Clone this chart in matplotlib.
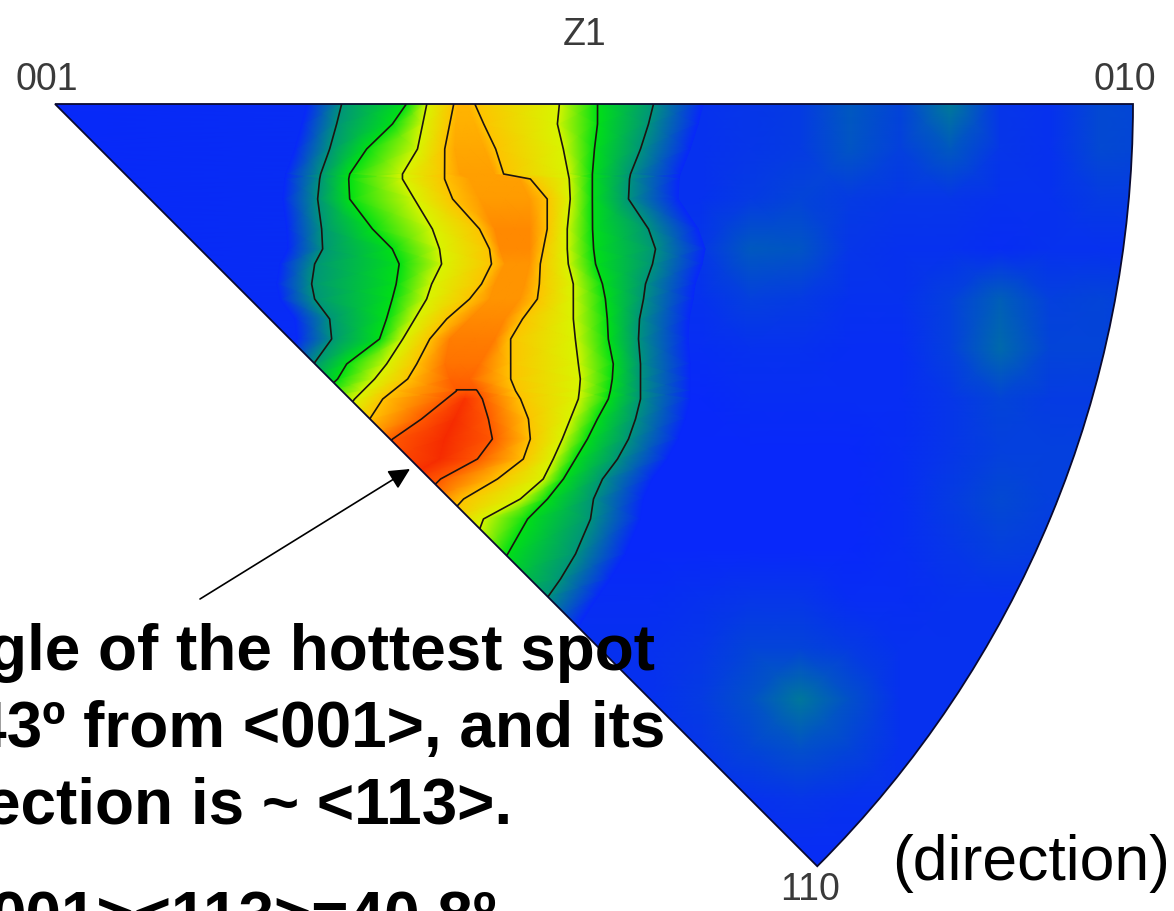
import numpy as np
import matplotlib
matplotlib.use('Agg')
import matplotlib.pyplot as plt
from matplotlib.colors import LinearSegmentedColormap
from matplotlib.patches import Wedge

# --- contour crossings (pixel x for every row y) ---
row_y = [105,125,150,175,180,200,230,250,265,285,300,320,340,365,380,392,400,420,440,460,480,500,520,555,580,597,640]
l1_left = [342,337,330,321,320,318,322,323,315,312,315,330,332,314,300,290,280,270,260,250,240,230,220,210,200,190,180]
l2_left = [407,393,367,350,349,350,373,393,400,397,393,387,380,347,338,325,315,305,295,285,275,265,255,245,235,225,215]
l3_left = [427,423,418,403,403,415,433,440,442,432,427,415,403,387,375,363,355,340,330,320,310,300,290,280,270,260,250]
l4_left = [454,450,445,445,445,453,480,490,492,482,470,447,430,417,408,393,383,370,355,345,335,325,315,305,295,285,275]
l5_left = [458,456,455,460,470,480,495,500,505,495,490,470,450,445,450,457,447,422,393,375,360,345,335,325,315,305,295]
ridge_x = [464,466,470,480,495,505,515,518,517,510,505,490,475,460,460,467,465,455,445,440,405,385,365,345,335,325,315]
l5_right = [468,475,485,495,520,530,530,530,530,525,520,505,495,480,470,477,482,488,492,477,440,420,400,375,360,345,335]
l4_right = [474,483,495,503,530,547,547,543,540,539,537,522,510,510,510,515,520,528,530,523,497,463,445,430,400,380,360]
l3_right = [559,557,563,568,569,570,567,567,568,573,573,573,575,578,580,579,578,570,562,553,543,520,483,470,440,420,400]
l2_right = [597,597,594,592,592,592,592,593,595,602,605,607,608,613,612,610,608,597,587,575,563,547,527,507,490,470,445]
l1_right = [653,648,640,630,629,628,648,655,652,645,643,639,638,640,640,640,640,635,628,617,602,593,590,575,560,548,520]
ridge_peak = [4.15,4.2,4.3,4.4,4.4,4.45,4.6,4.6,4.5,4.5,4.5,4.6,4.7,4.8,4.9,5.0,5.4,5.8,5.9,5.8,5.5,5,5,5,5,5,5]
column_level = [0,1,2,3,4,5,6,5,4,3,2,1,0]

# --- weak background spots on the blue side ---
bg_x = [0,650,700,750,800,850,900,950,1000,1050,1100,1150]
bg_y = [100,150,200,250,300,350,400,450,500,550,600,650,700,750,800,850,900]
bg_z = [
    [0,.1,.1,.15,.2,.5,.3,.8,.15,.1,.35,.3],
    [0,.1,.1,.15,.2,.45,.25,.5,.15,.1,.35,.3],
    [0,.1,.1,.2,.3,.2,.15,.15,.1,.1,.2,.2],
    [0,.1,.15,.5,.45,.15,.1,.1,.05,.1,.1,.1],
    [0,.1,.1,.25,.2,.1,.1,.25,.55,.25,.3,.2],
    [0,.05,.05,.1,.1,.05,.05,.25,.65,.3,.3,.2],
    [0,0,0,.05,.05,.05,.05,.15,.3,.2,.2,.2],
    [0,0,0,0,0,0,.05,.15,.25,.25,.25,.3],
    [0,0,0,0,0,0,.05,.2,.35,.25,.25,.3],
    [0,0,0,0,0,0,.05,.15,.25,.2,.2,.2],
    [0,.05,.1,.15,.15,.05,.05,.1,.1,.1,.1,.1],
    [0,.1,.15,.3,.3,.2,.1,.1,.1,.1,.1,.1],
    [0,.1,.2,.4,.75,.4,.1,.1,.1,.1,.1,.1],
    [0,.1,.15,.3,.4,.3,.1,.1,.1,.1,.1,.1],
    [0,.05,.1,.1,.15,.1,.1,.1,.1,.1,.1,.1],
    [0,.05,.05,.05,.05,.05,.05,.05,.05,.05,.05,.05],
    [0,.05,.05,.05,.05,.05,.05,.05,.05,.05,.05,.05],
]

colores = [(0,(8,40,250)),(.5,(0,90,190)),(1,(0,150,120)),(1.5,(0,190,70)),(2,(0,225,20)),
           (2.5,(110,240,0)),(3,(215,245,0)),(3.5,(250,235,0)),(4,(255,195,0)),(4.5,(255,150,0)),
           (5,(255,90,0)),(5.25,(250,55,0)),(6,(245,40,0))]
cmap = LinearSegmentedColormap.from_list('ipf', [(v/6, tuple(c/255 for c in rgb)) for v, rgb in colores])

fig = plt.figure(figsize=(11.74, 9.12), dpi=100)
ax = fig.add_axes([0, 0, 1, 1])
ax.set_xlim(0, 1174)
ax.set_ylim(912, 0)
ax.axis('off')

# stereographic triangle, axes are in image pixels
wedge = Wedge((55, 105), 1078, 0, 45, facecolor='none', edgecolor='#0a0a30', linewidth=1.3, zorder=4)
ax.add_patch(wedge)

bg = ax.pcolormesh(bg_x, bg_y, np.array(bg_z), shading='gouraud', cmap=cmap, vmin=0, vmax=6, zorder=1)
bg.set_clip_path(wedge)

# curved mesh: every column follows one contour
Y = np.tile(np.array(row_y)[:, None], (1, len(column_level)))
l1l = np.array(l1_left)
l1r = np.array(l1_right)
X = np.column_stack([l1l - 35, l1l, l2_left, l3_left, l4_left, l5_left, ridge_x,
                     l5_right, l4_right, l3_right, l2_right, l1r, l1r + 50])
Z = np.minimum(np.array(column_level, dtype=float)[None, :], np.array(ridge_peak)[:, None])

cf = ax.pcolormesh(X, Y, Z, shading='gouraud', cmap=cmap, vmin=0, vmax=6, zorder=2)
cf.set_clip_path(wedge)
cl = ax.contour(X, Y, Z, levels=[0.99, 1.99, 2.99, 3.99, 4.99], colors='#1c1410', linewidths=1.2, zorder=3)
cl.set_clip_path(wedge)

# labels of the figure
for txt, x, y in [('Z1', 585, 35), ('001', 47, 80), ('010', 1125, 80), ('110', 810, 890)]:
    ax.text(x, y, txt, family='Liberation Sans', fontsize=27, color='#3a3a3a', ha='center', va='center', zorder=5)

ax.annotate('', xy=(410, 470), xytext=(200, 600),
            arrowprops=dict(arrowstyle='-|>', color='black', lw=1.2, shrinkA=0, shrinkB=0, mutation_scale=32), zorder=5)

# the slide text runs off the left and bottom edge in the original
ax.text(655, 670, 'gle of the hottest spot', family='Liberation Sans', weight='bold', fontsize=46, ha='right', va='baseline', zorder=6)
ax.text(665, 747, '43º from <001>, and its', family='Liberation Sans', weight='bold', fontsize=46, ha='right', va='baseline', zorder=6)
ax.text(512, 824, 'ection is ~ <113>.', family='Liberation Sans', weight='bold', fontsize=46, ha='right', va='baseline', zorder=6)
ax.text(497, 938, '001><113>=40.8º', family='Liberation Sans', weight='bold', fontsize=46, ha='right', va='baseline', zorder=6)
ax.text(1170, 880, '(direction)', family='Liberation Sans', fontsize=45, ha='right', va='baseline', zorder=6)

fig.savefig('out.png', dpi=100)
